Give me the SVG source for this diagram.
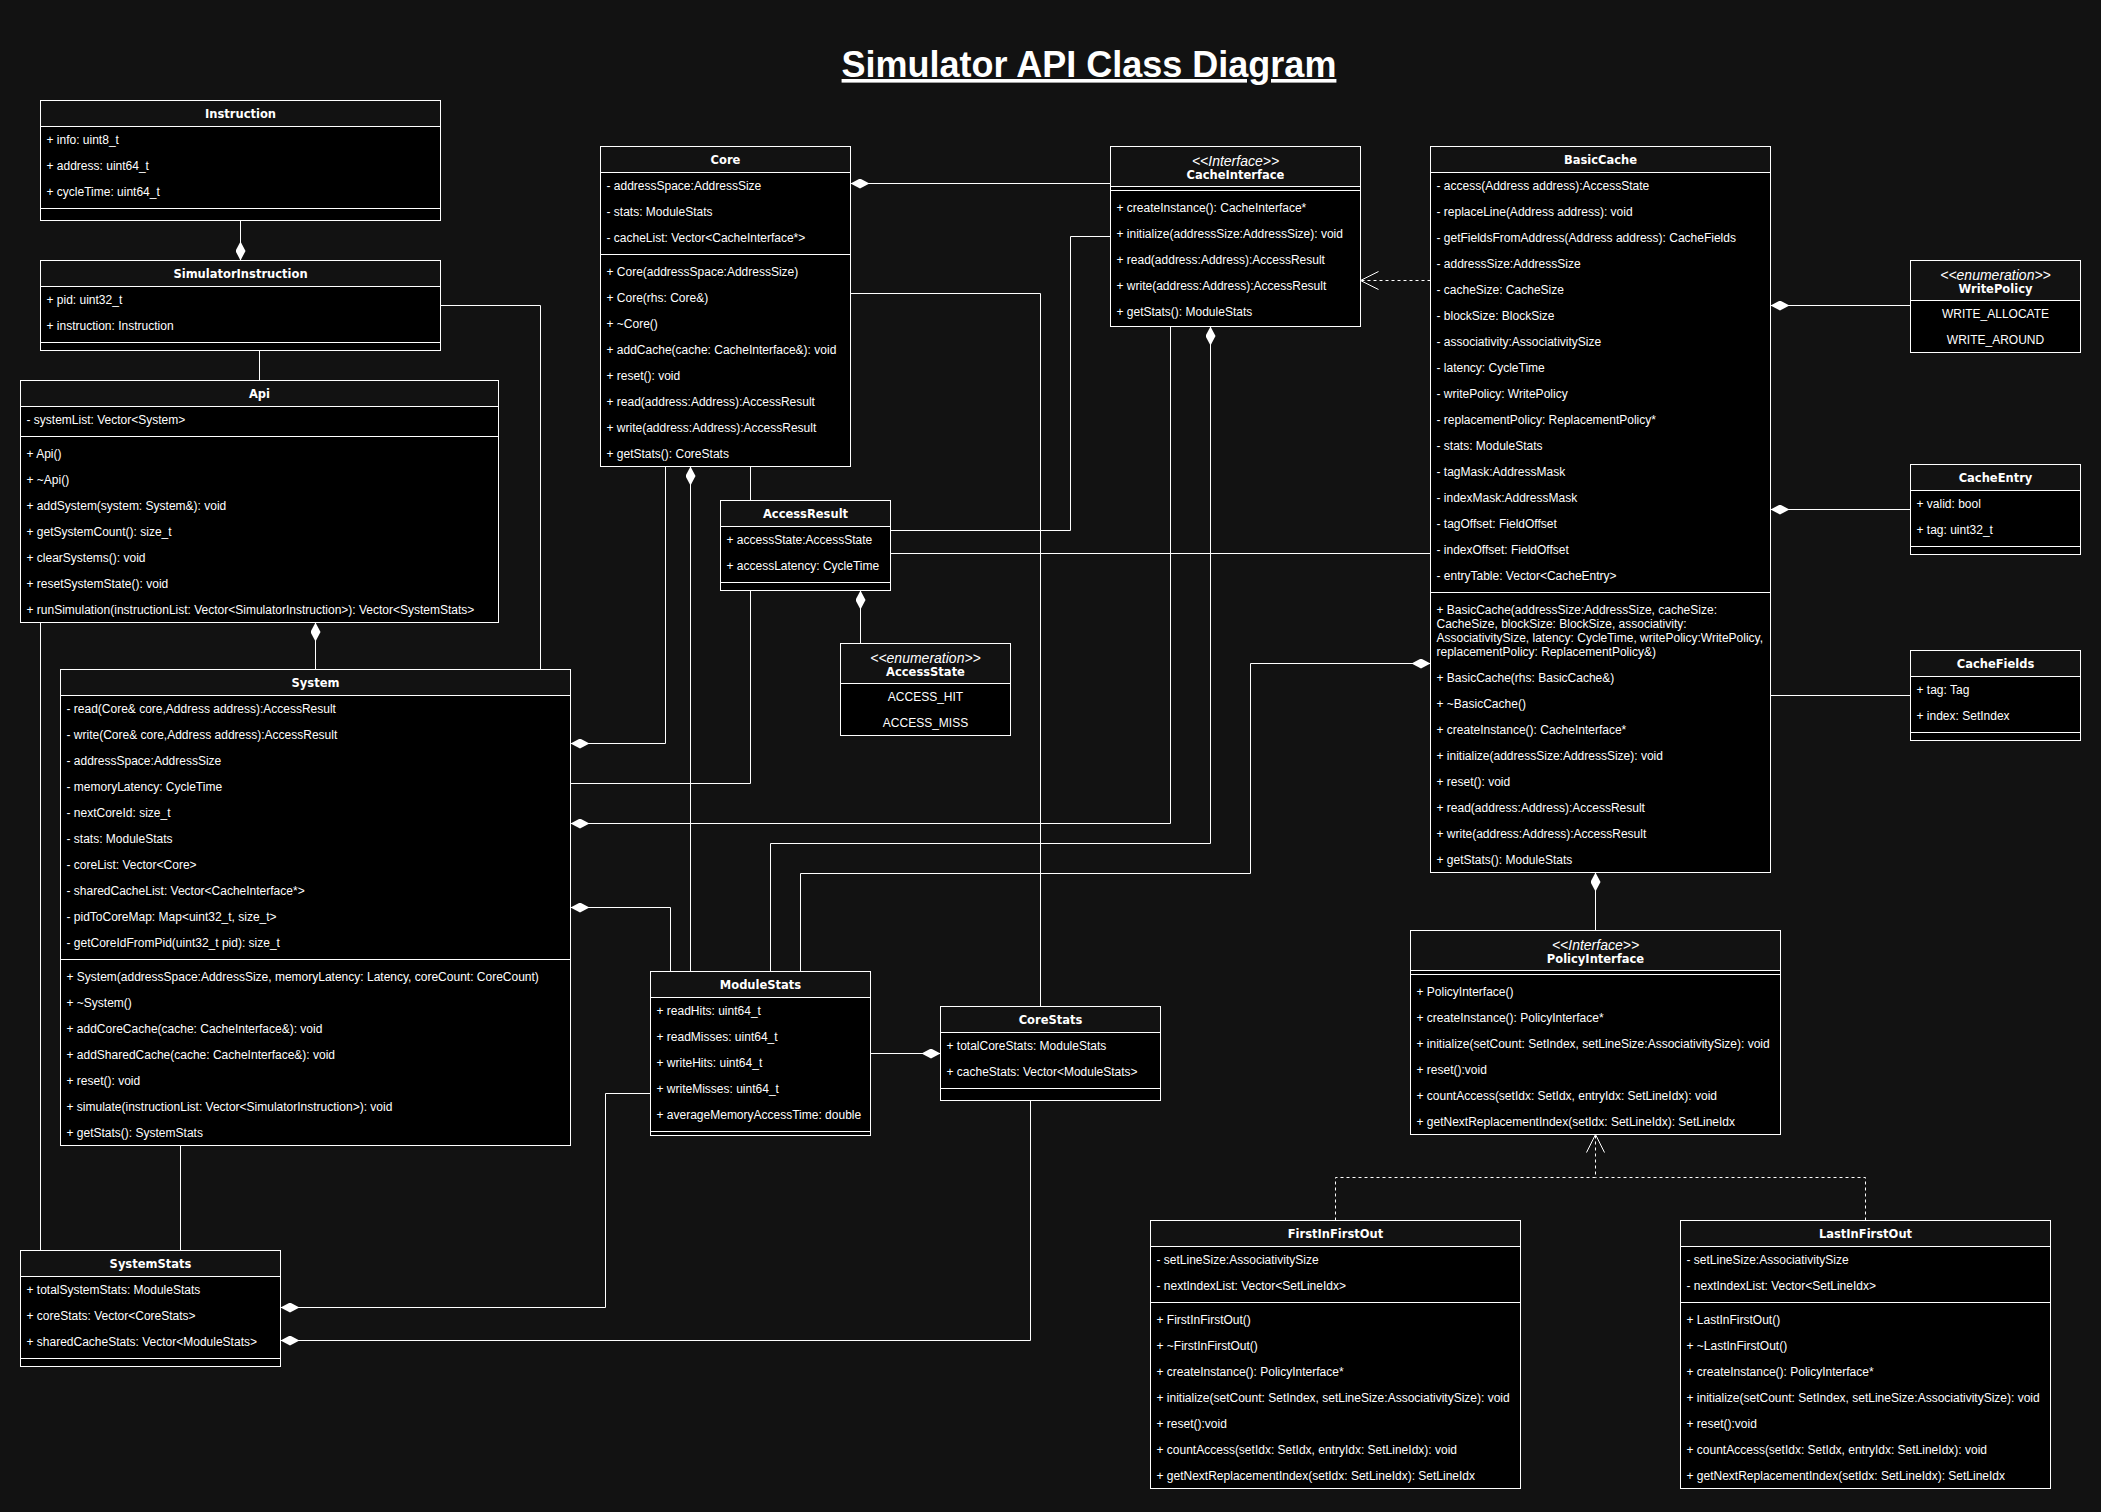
<svg xmlns="http://www.w3.org/2000/svg" width="2101" height="1512" viewBox="0 0 2101 1512">
<style>
.bg{fill:#121212}
.b{fill:#000;stroke:#fff;stroke-width:1}
.h{fill:#121212;stroke:#fff;stroke-width:1}
.s{stroke:#fff;stroke-width:1}
.t{font-family:"Liberation Sans",Arial,sans-serif;font-size:12px;fill:#fff}
.m{font-family:"Liberation Sans",Arial,sans-serif;font-size:12px;fill:#fff;text-anchor:middle}
.n{font-family:"DejaVu Sans",sans-serif;font-weight:bold;font-size:11.5px;fill:#fff;text-anchor:middle}
.st{font-family:"Liberation Sans",Arial,sans-serif;font-style:italic;font-size:14px;fill:#fff;text-anchor:middle}
.c{fill:none;stroke:#fff;stroke-width:1}
.dia{marker-start:url(#dia)}
.dash{stroke-dasharray:3 3}
.title{font-family:"Liberation Sans",Arial,sans-serif;font-weight:bold;font-size:36px;fill:#fff;text-anchor:middle;text-decoration:underline}
</style>
<defs>
<marker id="dia" viewBox="0 0 19 10" refX="0" refY="5" markerWidth="19" markerHeight="10" markerUnits="userSpaceOnUse" orient="auto"><path d="M0,5 L9.5,0 L19,5 L9.5,10 Z" fill="#fff"/></marker>
<marker id="open" viewBox="0 0 20 20" refX="18" refY="10" markerWidth="20" markerHeight="20" markerUnits="userSpaceOnUse" orient="auto"><path d="M0,1 L18,10 L0,19" fill="none" stroke="#fff" stroke-width="1"/></marker>
</defs>
<rect class="bg" x="0" y="0" width="2101" height="1512"/>
<text class="title" x="1089" y="77">Simulator API Class Diagram</text>

<g id="Instruction">
<rect class="b" x="40.5" y="100.5" width="400" height="120"/>
<rect class="h" x="40.5" y="100.5" width="400" height="26"/>
<text class="n" x="240.5" y="118">Instruction</text>
<text class="t" x="46.5" y="143.5">+ info: uint8_t</text>
<text class="t" x="46.5" y="169.5">+ address: uint64_t</text>
<text class="t" x="46.5" y="195.5">+ cycleTime: uint64_t</text>
<line class="s" x1="40.5" y1="208.5" x2="440.5" y2="208.5"/>
</g>

<g id="SimulatorInstruction">
<rect class="b" x="40.5" y="260.5" width="400" height="90"/>
<rect class="h" x="40.5" y="260.5" width="400" height="26"/>
<text class="n" x="240.5" y="278">SimulatorInstruction</text>
<text class="t" x="46.5" y="303.5">+ pid: uint32_t</text>
<text class="t" x="46.5" y="329.5">+ instruction: Instruction</text>
<line class="s" x1="40.5" y1="342.5" x2="440.5" y2="342.5"/>
</g>

<g id="Api">
<rect class="b" x="20.5" y="380.5" width="478" height="242"/>
<rect class="h" x="20.5" y="380.5" width="478" height="26"/>
<text class="n" x="259.5" y="398">Api</text>
<text class="t" x="26.5" y="423.5">- systemList: Vector&lt;System&gt;</text>
<line class="s" x1="20.5" y1="436.5" x2="498.5" y2="436.5"/>
<text class="t" x="26.5" y="457.5">+ Api()</text>
<text class="t" x="26.5" y="483.5">+ ~Api()</text>
<text class="t" x="26.5" y="509.5">+ addSystem(system: System&amp;): void</text>
<text class="t" x="26.5" y="535.5">+ getSystemCount(): size_t</text>
<text class="t" x="26.5" y="561.5">+ clearSystems(): void</text>
<text class="t" x="26.5" y="587.5">+ resetSystemState(): void</text>
<text class="t" x="26.5" y="613.5">+ runSimulation(instructionList: Vector&lt;SimulatorInstruction&gt;): Vector&lt;SystemStats&gt;</text>
</g>

<g id="System">
<rect class="b" x="60.5" y="669.5" width="510" height="476"/>
<rect class="h" x="60.5" y="669.5" width="510" height="26"/>
<text class="n" x="315.5" y="687">System</text>
<text class="t" x="66.5" y="712.5">- read(Core&amp; core,Address address):AccessResult</text>
<text class="t" x="66.5" y="738.5">- write(Core&amp; core,Address address):AccessResult</text>
<text class="t" x="66.5" y="764.5">- addressSpace:AddressSize</text>
<text class="t" x="66.5" y="790.5">- memoryLatency: CycleTime</text>
<text class="t" x="66.5" y="816.5">- nextCoreId: size_t</text>
<text class="t" x="66.5" y="842.5">- stats: ModuleStats</text>
<text class="t" x="66.5" y="868.5">- coreList: Vector&lt;Core&gt;</text>
<text class="t" x="66.5" y="894.5">- sharedCacheList: Vector&lt;CacheInterface*&gt;</text>
<text class="t" x="66.5" y="920.5">- pidToCoreMap: Map&lt;uint32_t, size_t&gt;</text>
<text class="t" x="66.5" y="946.5">- getCoreIdFromPid(uint32_t pid): size_t</text>
<line class="s" x1="60.5" y1="959.5" x2="570.5" y2="959.5"/>
<text class="t" x="66.5" y="980.5">+ System(addressSpace:AddressSize, memoryLatency: Latency, coreCount: CoreCount)</text>
<text class="t" x="66.5" y="1006.5">+ ~System()</text>
<text class="t" x="66.5" y="1032.5">+ addCoreCache(cache: CacheInterface&amp;): void</text>
<text class="t" x="66.5" y="1058.5">+ addSharedCache(cache: CacheInterface&amp;): void</text>
<text class="t" x="66.5" y="1084.5">+ reset(): void</text>
<text class="t" x="66.5" y="1110.5">+ simulate(instructionList: Vector&lt;SimulatorInstruction&gt;): void</text>
<text class="t" x="66.5" y="1136.5">+ getStats(): SystemStats</text>
</g>

<g id="SystemStats">
<rect class="b" x="20.5" y="1250.5" width="260" height="116"/>
<rect class="h" x="20.5" y="1250.5" width="260" height="26"/>
<text class="n" x="150.5" y="1268">SystemStats</text>
<text class="t" x="26.5" y="1293.5">+ totalSystemStats: ModuleStats</text>
<text class="t" x="26.5" y="1319.5">+ coreStats: Vector&lt;CoreStats&gt;</text>
<text class="t" x="26.5" y="1345.5">+ sharedCacheStats: Vector&lt;ModuleStats&gt;</text>
<line class="s" x1="20.5" y1="1358.5" x2="280.5" y2="1358.5"/>
</g>

<g id="Core">
<rect class="b" x="600.5" y="146.5" width="250" height="320"/>
<rect class="h" x="600.5" y="146.5" width="250" height="26"/>
<text class="n" x="725.5" y="164">Core</text>
<text class="t" x="606.5" y="189.5">- addressSpace:AddressSize</text>
<text class="t" x="606.5" y="215.5">- stats: ModuleStats</text>
<text class="t" x="606.5" y="241.5">- cacheList: Vector&lt;CacheInterface*&gt;</text>
<line class="s" x1="600.5" y1="254.5" x2="850.5" y2="254.5"/>
<text class="t" x="606.5" y="275.5">+ Core(addressSpace:AddressSize)</text>
<text class="t" x="606.5" y="301.5">+ Core(rhs: Core&amp;)</text>
<text class="t" x="606.5" y="327.5">+ ~Core()</text>
<text class="t" x="606.5" y="353.5">+ addCache(cache: CacheInterface&amp;): void</text>
<text class="t" x="606.5" y="379.5">+ reset(): void</text>
<text class="t" x="606.5" y="405.5">+ read(address:Address):AccessResult</text>
<text class="t" x="606.5" y="431.5">+ write(address:Address):AccessResult</text>
<text class="t" x="606.5" y="457.5">+ getStats(): CoreStats</text>
</g>

<g id="AccessResult">
<rect class="b" x="720.5" y="500.5" width="170" height="90"/>
<rect class="h" x="720.5" y="500.5" width="170" height="26"/>
<text class="n" x="805.5" y="518">AccessResult</text>
<text class="t" x="726.5" y="543.5">+ accessState:AccessState</text>
<text class="t" x="726.5" y="569.5">+ accessLatency: CycleTime</text>
<line class="s" x1="720.5" y1="582.5" x2="890.5" y2="582.5"/>
</g>

<g id="AccessState">
<rect class="b" x="840.5" y="643.5" width="170" height="92"/>
<rect class="h" x="840.5" y="643.5" width="170" height="40"/>
<text class="st" x="925.5" y="662.5">&lt;&lt;enumeration&gt;&gt;</text>
<text class="n" x="925.5" y="675.5">AccessState</text>
<text class="m" x="925.5" y="700.5">ACCESS_HIT</text>
<text class="m" x="925.5" y="726.5">ACCESS_MISS</text>
</g>

<g id="CacheInterface">
<rect class="b" x="1110.5" y="146.5" width="250" height="180"/>
<rect class="h" x="1110.5" y="146.5" width="250" height="40"/>
<text class="st" x="1235.5" y="165.5">&lt;&lt;Interface&gt;&gt;</text>
<text class="n" x="1235.5" y="178.5">CacheInterface</text>
<line class="s" x1="1110.5" y1="190.5" x2="1360.5" y2="190.5"/>
<text class="t" x="1116.5" y="211.5">+ createInstance(): CacheInterface*</text>
<text class="t" x="1116.5" y="237.5">+ initialize(addressSize:AddressSize): void</text>
<text class="t" x="1116.5" y="263.5">+ read(address:Address):AccessResult</text>
<text class="t" x="1116.5" y="289.5">+ write(address:Address):AccessResult</text>
<text class="t" x="1116.5" y="315.5">+ getStats(): ModuleStats</text>
</g>

<g id="BasicCache">
<rect class="b" x="1430.5" y="146.5" width="340" height="726"/>
<rect class="h" x="1430.5" y="146.5" width="340" height="26"/>
<text class="n" x="1600.5" y="164">BasicCache</text>
<text class="t" x="1436.5" y="189.5">- access(Address address):AccessState</text>
<text class="t" x="1436.5" y="215.5">- replaceLine(Address address): void</text>
<text class="t" x="1436.5" y="241.5">- getFieldsFromAddress(Address address): CacheFields</text>
<text class="t" x="1436.5" y="267.5">- addressSize:AddressSize</text>
<text class="t" x="1436.5" y="293.5">- cacheSize: CacheSize</text>
<text class="t" x="1436.5" y="319.5">- blockSize: BlockSize</text>
<text class="t" x="1436.5" y="345.5">- associativity:AssociativitySize</text>
<text class="t" x="1436.5" y="371.5">- latency: CycleTime</text>
<text class="t" x="1436.5" y="397.5">- writePolicy: WritePolicy</text>
<text class="t" x="1436.5" y="423.5">- replacementPolicy: ReplacementPolicy*</text>
<text class="t" x="1436.5" y="449.5">- stats: ModuleStats</text>
<text class="t" x="1436.5" y="475.5">- tagMask:AddressMask</text>
<text class="t" x="1436.5" y="501.5">- indexMask:AddressMask</text>
<text class="t" x="1436.5" y="527.5">- tagOffset: FieldOffset</text>
<text class="t" x="1436.5" y="553.5">- indexOffset: FieldOffset</text>
<text class="t" x="1436.5" y="579.5">- entryTable: Vector&lt;CacheEntry&gt;</text>
<line class="s" x1="1430.5" y1="592.5" x2="1770.5" y2="592.5"/>
<text class="t" x="1436.5" y="614">+ BasicCache(addressSize:AddressSize, cacheSize:</text>
<text class="t" x="1436.5" y="628">CacheSize, blockSize: BlockSize, associativity:</text>
<text class="t" x="1436.5" y="642">AssociativitySize, latency: CycleTime, writePolicy:WritePolicy,</text>
<text class="t" x="1436.5" y="656">replacementPolicy: ReplacementPolicy&amp;)</text>
<text class="t" x="1436.5" y="681.5">+ BasicCache(rhs: BasicCache&amp;)</text>
<text class="t" x="1436.5" y="707.5">+ ~BasicCache()</text>
<text class="t" x="1436.5" y="733.5">+ createInstance(): CacheInterface*</text>
<text class="t" x="1436.5" y="759.5">+ initialize(addressSize:AddressSize): void</text>
<text class="t" x="1436.5" y="785.5">+ reset(): void</text>
<text class="t" x="1436.5" y="811.5">+ read(address:Address):AccessResult</text>
<text class="t" x="1436.5" y="837.5">+ write(address:Address):AccessResult</text>
<text class="t" x="1436.5" y="863.5">+ getStats(): ModuleStats</text>
</g>

<g id="WritePolicy">
<rect class="b" x="1910.5" y="260.5" width="170" height="92"/>
<rect class="h" x="1910.5" y="260.5" width="170" height="40"/>
<text class="st" x="1995.5" y="279.5">&lt;&lt;enumeration&gt;&gt;</text>
<text class="n" x="1995.5" y="292.5">WritePolicy</text>
<text class="m" x="1995.5" y="317.5">WRITE_ALLOCATE</text>
<text class="m" x="1995.5" y="343.5">WRITE_AROUND</text>
</g>

<g id="CacheEntry">
<rect class="b" x="1910.5" y="464.5" width="170" height="90"/>
<rect class="h" x="1910.5" y="464.5" width="170" height="26"/>
<text class="n" x="1995.5" y="482">CacheEntry</text>
<text class="t" x="1916.5" y="507.5">+ valid: bool</text>
<text class="t" x="1916.5" y="533.5">+ tag: uint32_t</text>
<line class="s" x1="1910.5" y1="546.5" x2="2080.5" y2="546.5"/>
</g>

<g id="CacheFields">
<rect class="b" x="1910.5" y="650.5" width="170" height="90"/>
<rect class="h" x="1910.5" y="650.5" width="170" height="26"/>
<text class="n" x="1995.5" y="668">CacheFields</text>
<text class="t" x="1916.5" y="693.5">+ tag: Tag</text>
<text class="t" x="1916.5" y="719.5">+ index: SetIndex</text>
<line class="s" x1="1910.5" y1="732.5" x2="2080.5" y2="732.5"/>
</g>

<g id="PolicyInterface">
<rect class="b" x="1410.5" y="930.5" width="370" height="204"/>
<rect class="h" x="1410.5" y="930.5" width="370" height="40"/>
<text class="st" x="1595.5" y="949.5">&lt;&lt;Interface&gt;&gt;</text>
<text class="n" x="1595.5" y="962.5">PolicyInterface</text>
<line class="s" x1="1410.5" y1="974.5" x2="1780.5" y2="974.5"/>
<text class="t" x="1416.5" y="995.5">+ PolicyInterface()</text>
<text class="t" x="1416.5" y="1021.5">+ createInstance(): PolicyInterface*</text>
<text class="t" x="1416.5" y="1047.5">+ initialize(setCount: SetIndex, setLineSize:AssociativitySize): void</text>
<text class="t" x="1416.5" y="1073.5">+ reset():void</text>
<text class="t" x="1416.5" y="1099.5">+ countAccess(setIdx: SetIdx, entryIdx: SetLineIdx): void</text>
<text class="t" x="1416.5" y="1125.5">+ getNextReplacementIndex(setIdx: SetLineIdx): SetLineIdx</text>
</g>

<g id="ModuleStats">
<rect class="b" x="650.5" y="971.5" width="220" height="164"/>
<rect class="h" x="650.5" y="971.5" width="220" height="26"/>
<text class="n" x="760.5" y="989">ModuleStats</text>
<text class="t" x="656.5" y="1014.5">+ readHits: uint64_t</text>
<text class="t" x="656.5" y="1040.5">+ readMisses: uint64_t</text>
<text class="t" x="656.5" y="1066.5">+ writeHits: uint64_t</text>
<text class="t" x="656.5" y="1092.5">+ writeMisses: uint64_t</text>
<text class="t" x="656.5" y="1118.5">+ averageMemoryAccessTime: double</text>
<line class="s" x1="650.5" y1="1131.5" x2="870.5" y2="1131.5"/>
</g>

<g id="CoreStats">
<rect class="b" x="940.5" y="1006.5" width="220" height="94"/>
<rect class="h" x="940.5" y="1006.5" width="220" height="26"/>
<text class="n" x="1050.5" y="1024">CoreStats</text>
<text class="t" x="946.5" y="1049.5">+ totalCoreStats: ModuleStats</text>
<text class="t" x="946.5" y="1075.5">+ cacheStats: Vector&lt;ModuleStats&gt;</text>
<line class="s" x1="940.5" y1="1088.5" x2="1160.5" y2="1088.5"/>
</g>

<g id="FirstInFirstOut">
<rect class="b" x="1150.5" y="1220.5" width="370" height="268"/>
<rect class="h" x="1150.5" y="1220.5" width="370" height="26"/>
<text class="n" x="1335.5" y="1238">FirstInFirstOut</text>
<text class="t" x="1156.5" y="1263.5">- setLineSize:AssociativitySize</text>
<text class="t" x="1156.5" y="1289.5">- nextIndexList: Vector&lt;SetLineIdx&gt;</text>
<line class="s" x1="1150.5" y1="1302.5" x2="1520.5" y2="1302.5"/>
<text class="t" x="1156.5" y="1323.5">+ FirstInFirstOut()</text>
<text class="t" x="1156.5" y="1349.5">+ ~FirstInFirstOut()</text>
<text class="t" x="1156.5" y="1375.5">+ createInstance(): PolicyInterface*</text>
<text class="t" x="1156.5" y="1401.5">+ initialize(setCount: SetIndex, setLineSize:AssociativitySize): void</text>
<text class="t" x="1156.5" y="1427.5">+ reset():void</text>
<text class="t" x="1156.5" y="1453.5">+ countAccess(setIdx: SetIdx, entryIdx: SetLineIdx): void</text>
<text class="t" x="1156.5" y="1479.5">+ getNextReplacementIndex(setIdx: SetLineIdx): SetLineIdx</text>
</g>

<g id="LastInFirstOut">
<rect class="b" x="1680.5" y="1220.5" width="370" height="268"/>
<rect class="h" x="1680.5" y="1220.5" width="370" height="26"/>
<text class="n" x="1865.5" y="1238">LastInFirstOut</text>
<text class="t" x="1686.5" y="1263.5">- setLineSize:AssociativitySize</text>
<text class="t" x="1686.5" y="1289.5">- nextIndexList: Vector&lt;SetLineIdx&gt;</text>
<line class="s" x1="1680.5" y1="1302.5" x2="2050.5" y2="1302.5"/>
<text class="t" x="1686.5" y="1323.5">+ LastInFirstOut()</text>
<text class="t" x="1686.5" y="1349.5">+ ~LastInFirstOut()</text>
<text class="t" x="1686.5" y="1375.5">+ createInstance(): PolicyInterface*</text>
<text class="t" x="1686.5" y="1401.5">+ initialize(setCount: SetIndex, setLineSize:AssociativitySize): void</text>
<text class="t" x="1686.5" y="1427.5">+ reset():void</text>
<text class="t" x="1686.5" y="1453.5">+ countAccess(setIdx: SetIdx, entryIdx: SetLineIdx): void</text>
<text class="t" x="1686.5" y="1479.5">+ getNextReplacementIndex(setIdx: SetLineIdx): SetLineIdx</text>
</g>

<g id="connectors">
<path class="c dia" d="M240.5,260.5 V220.5"/>
<path class="c" d="M259.5,350.5 V380.5"/>
<path class="c" d="M440.5,305.5 H540.5 V669.5"/>
<path class="c dia" d="M315.5,622.5 V669.5"/>
<path class="c" d="M40.5,622.5 V1250.5"/>
<path class="c" d="M180.5,1145.5 V1250.5"/>
<path class="c dia" d="M570.5,743.5 H665.5 V466.5"/>
<path class="c" d="M750.5,466.5 V500.5"/>
<path class="c" d="M750.5,590.5 V783.5 H570.5"/>
<path class="c dia" d="M570.5,823.5 H1170.5 V326.5"/>
<path class="c dia" d="M690.5,466.5 V971.5"/>
<path class="c dia" d="M570.5,907.5 H670.5 V971.5"/>
<path class="c dia" d="M1210.5,326.5 V843.5 H770.5 V971.5"/>
<path class="c dia" d="M1430.5,663.5 H1250.5 V873.5 H800.5 V971.5"/>
<path class="c dia" d="M850.5,183.5 H1110.5"/>
<path class="c" d="M850.5,293.5 H1040.5 V1006.5"/>
<path class="c" d="M1110.5,236.5 H1070.5 V530.5 H890.5"/>
<path class="c" d="M890.5,553.5 H1430.5"/>
<path class="c dia" d="M860.5,590.5 V643.5"/>
<path class="c dash" d="M1430.5,280.5 H1360.5" marker-end="url(#open)"/>
<path class="c dia" d="M1770.5,305.5 H1910.5"/>
<path class="c dia" d="M1770.5,509.5 H1910.5"/>
<path class="c" d="M1770.5,695.5 H1910.5"/>
<path class="c dia" d="M1595.5,872.5 V930.5"/>
<path class="c dash" d="M1335.5,1220.5 V1177.5 H1595.5 V1134.5" marker-end="url(#open)"/>
<path class="c dash" d="M1865.5,1220.5 V1177.5 H1595.5"/>
<path class="c dia" d="M940.5,1053.5 H870.5"/>
<path class="c dia" d="M280.5,1307.5 H605.5 V1093.5 H650.5"/>
<path class="c dia" d="M280.5,1340.5 H1030.5 V1100.5"/>
</g>
</svg>
